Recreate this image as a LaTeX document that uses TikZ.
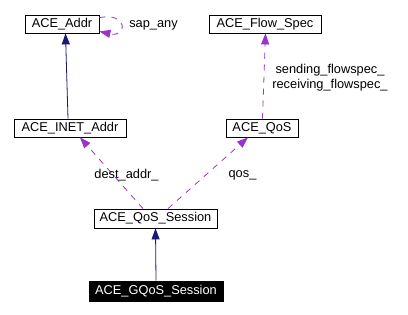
\documentclass[tikz,border=0pt]{standalone}
\usepackage{fontspec}
\setmainfont{Liberation Sans}
\usepackage{tikz}
\usetikzlibrary{arrows.meta}
\definecolor{midnightblue}{RGB}{25,25,112}
\definecolor{orchidline}{RGB}{154,50,205}
\tikzset{
  cls/.style={draw, line width=0.8pt, minimum height=18pt, inner sep=0pt,
    font=\fontsize{12.8}{14}\selectfont},
  lbl/.style={inner sep=0pt, font=\fontsize{12.8}{15}\selectfont},
  inherit/.style={midnightblue, line width=0.8pt,
    -{Triangle[width=8pt,length=11pt]}},
  usage/.style={orchidline, line width=0.8pt, dash pattern=on 6pt off 6pt,
    -{Triangle[width=8pt,length=11pt]}}
}

\begin{document}
\begin{tikzpicture}[x=1pt, y=-1pt]
    \useasboundingbox (0,0) rectangle (408,315);
    %% classes
    \node[cls, minimum width=74pt] (addr) at (62,24) {ACE\_Addr};
    \node[cls, minimum width=112pt] (flow) at (265,24) {ACE\_Flow\_Spec};
    \node[cls, minimum width=112pt] (inet) at (70,128) {ACE\_INET\_Addr};
    \node[cls, minimum width=72pt] (qos) at (262,128) {ACE\_QoS};
    \node[cls, minimum width=123pt, minimum height=19pt] (sess) at (155.5,218.5) {ACE\_QoS\_Session};
    \node[cls, minimum width=134pt, minimum height=20pt, fill=black, text=white] (gqos) at (156,291) {ACE\_GQoS\_Session};
    %% inheritance
    \draw[inherit] (gqos.north) -- (sess.south);
    \draw[inherit] ([xshift=-2pt]inet.north) -- ([xshift=3.5pt]addr.south);
    %% members
    \draw[usage] ([xshift=-12.5pt]sess.north) -- ([xshift=10pt]inet.south);
    \draw[usage] ([xshift=12.5pt]sess.north) -- ([xshift=-14pt]qos.south);
    \draw[usage] ([xshift=0.5pt]qos.north) -- ([xshift=0.5pt]flow.south);
    \draw[usage] ([yshift=-3pt]addr.north east) .. controls (128,12) and (128,38) .. ([yshift=2pt]addr.south east);
    %% member names
    \node[lbl] (sapany) at (153.5,25) {sap\_any};
    \node[lbl, align=center] (flowspec) at (330,78) {sending\_flowspec\_\\receiving\_flowspec\_};
    \node[lbl] (destaddr) at (126.5,175) {dest\_addr\_};
    \node[lbl] (qosname) at (242.5,175) {qos\_};
\end{tikzpicture}
\end{document}
